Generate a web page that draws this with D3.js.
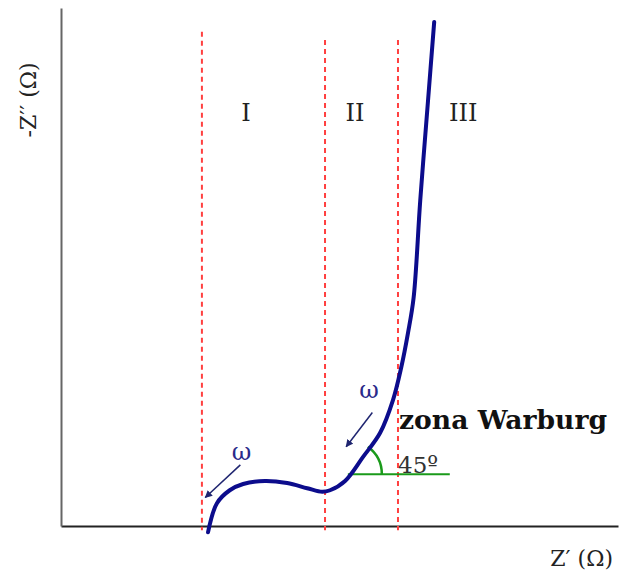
<!DOCTYPE html>
<html>
<head>
<meta charset="utf-8">
<script src="https://cdn.jsdelivr.net/npm/d3@7"></script>
<style>
  body { margin: 0; background: #fff; }
  text { font-family: "DejaVu Serif", "Liberation Serif", serif; }
</style>
</head>
<body>
<div id="chart"></div>
<script>
// Nyquist curve (arbitrary units, 0..100)
var curveX = [26.4, 28.0, 30.3, 32.7, 36.6, 40.6, 44.2, 46.9, 48.3, 51.0, 54.2, 57.3, 59.6, 61.1, 62.3, 63.3, 64.5, 65.9, 67.0];
var curveY = [-1.2, 4.4, 6.9, 8.1, 8.7, 8.3, 7.3, 6.6, 6.9, 8.7, 13.3, 18.0, 24.3, 30.7, 37.3, 44.0, 62.9, 82.2, 97.3];

// zone borders and labels
var zoneX = [25.3, 47.4, 60.5];
var zoneTop = [95.4, 93.8, 93.8];
var zoneLabels = ['I', 'II', 'III'];
var zoneLabelX = [33.2, 52.8, 72.2];

// 45 degree guide
var warburgLine = [51.5, 69.8];
var warburgY = 10.0;

var width = 623, height = 581;
var x = d3.scaleLinear().domain([0, 100]).range([61, 618]);
var y = d3.scaleLinear().domain([0, 100]).range([526, 8]);

var svg = d3.select('#chart').append('svg')
  .attr('width', width)
  .attr('height', height);

svg.append('defs').append('marker')
  .attr('id', 'head')
  .attr('viewBox', '0 0 10 10')
  .attr('refX', 9).attr('refY', 5)
  .attr('markerWidth', 5).attr('markerHeight', 5)
  .attr('orient', 'auto')
  .append('path')
  .attr('d', 'M0,0 L10,5 L0,10 z')
  .attr('fill', '#1f2570');

// axes, no ticks
svg.append('g')
  .attr('transform', 'translate(0,' + y(0) + ')')
  .call(d3.axisBottom(x).tickValues([]).tickSizeOuter(0))
  .select('.domain').attr('stroke', '#222').attr('stroke-width', 2);

svg.append('g')
  .attr('transform', 'translate(' + x(0) + ',0)')
  .call(d3.axisLeft(y).tickValues([]).tickSizeOuter(0))
  .select('.domain').attr('stroke', '#666').attr('stroke-width', 2);

// red zone borders
svg.selectAll('.zone')
  .data(zoneX)
  .enter()
  .append('line')
  .attr('class', 'zone')
  .attr('x1', function(d) { return x(d); })
  .attr('x2', function(d) { return x(d); })
  .attr('y1', function(d, i) { return y(zoneTop[i]); })
  .attr('y2', y(-0.8))
  .attr('stroke', '#ff4040')
  .attr('stroke-width', 2)
  .attr('stroke-dasharray', '5,4');

svg.selectAll('.zlabel')
  .data(zoneLabels)
  .enter()
  .append('text')
  .attr('class', 'zlabel')
  .attr('x', function(d, i) { return x(zoneLabelX[i]); })
  .attr('y', y(78.2))
  .attr('text-anchor', 'middle')
  .attr('font-family', 'Liberation Serif')
  .attr('font-size', 24)
  .attr('fill', '#222')
  .text(function(d) { return d; });

// green 45 guide + arc
svg.append('line')
  .attr('x1', x(warburgLine[0])).attr('x2', x(warburgLine[1]))
  .attr('y1', y(warburgY)).attr('y2', y(warburgY))
  .attr('stroke', '#1a9a1a').attr('stroke-width', 2);

svg.append('path')
  .attr('transform', 'translate(' + x(warburgLine[0]) + ',' + y(warburgY) + ')')
  .attr('d', d3.arc()({innerRadius: 34, outerRadius: 34, startAngle: Math.PI * 0.2, endAngle: Math.PI / 2}))
  .attr('fill', 'none')
  .attr('stroke', '#1a9a1a').attr('stroke-width', 2.5);

// curve
var pts = curveX.map(function(d, i) { return [d, curveY[i]]; });
svg.append('path')
  .datum(pts)
  .attr('d', d3.line()
    .x(function(d) { return x(d[0]); })
    .y(function(d) { return y(d[1]); })
    .curve(d3.curveCatmullRom))
  .attr('fill', 'none')
  .attr('stroke', '#0c0c8c')
  .attr('stroke-width', 4)
  .attr('stroke-linecap', 'round');

// omega arrows
var arrowFrom = [[32.2, 11.8], [55.9, 21.9]];
var arrowTo = [[25.9, 5.5], [51.2, 15.3]];
var omegaPos = [[32.4, 12.7], [55.3, 24.7]];

svg.selectAll('.arrow')
  .data(arrowFrom)
  .enter()
  .append('line')
  .attr('class', 'arrow')
  .attr('x1', function(d) { return x(d[0]); })
  .attr('y1', function(d) { return y(d[1]); })
  .attr('x2', function(d, i) { return x(arrowTo[i][0]); })
  .attr('y2', function(d, i) { return y(arrowTo[i][1]); })
  .attr('stroke', '#1f2570')
  .attr('stroke-width', 1.5)
  .attr('marker-end', 'url(#head)');

svg.selectAll('.omega')
  .data(omegaPos)
  .enter()
  .append('text')
  .attr('class', 'omega')
  .attr('x', function(d) { return x(d[0]); })
  .attr('y', function(d) { return y(d[1]); })
  .attr('text-anchor', 'middle')
  .attr('font-family', 'DejaVu Sans')
  .attr('font-size', 24)
  .attr('fill', '#2a2a8a')
  .text('ω');

svg.append('text')
  .attr('x', 399).attr('y', 429)
  .attr('font-size', 26)
  .attr('font-weight', 'bold')
  .attr('fill', '#111')
  .attr('textLength', 208)
  .attr('lengthAdjust', 'spacingAndGlyphs')
  .text('zona Warburg');

svg.append('text')
  .attr('x', 398).attr('y', 473)
  .attr('font-size', 23)
  .attr('fill', '#333')
  .text('45º');

svg.append('text')
  .attr('x', 613).attr('y', 566)
  .attr('text-anchor', 'end')
  .attr('font-size', 22)
  .attr('fill', '#222')
  .text('Z′ (Ω)');

svg.append('text')
  .attr('transform', 'translate(36,100) rotate(-90)')
  .attr('text-anchor', 'middle')
  .attr('font-size', 22)
  .attr('fill', '#222')
  .text('-Z′′ (Ω)');
</script>
</body>
</html>
